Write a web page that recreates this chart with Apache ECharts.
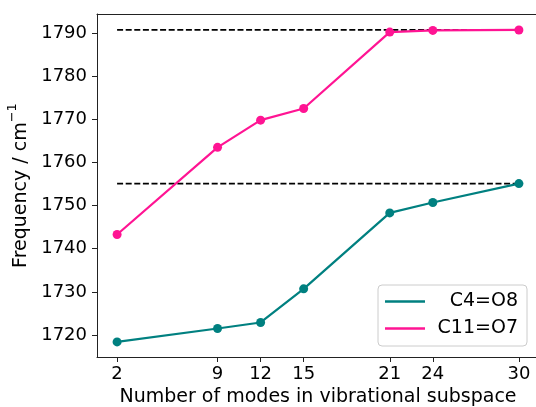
<!DOCTYPE html>
<html>
<head>
<meta charset="utf-8">
<script src="https://cdn.jsdelivr.net/npm/echarts@6/dist/echarts.min.js"></script>
<style>
html,body{margin:0;padding:0;background:#fff;}
#main{width:536px;height:407px;}
</style>
</head>
<body>
<div id="main"></div>
<script>
// Data
const modes = [2, 9, 12, 15, 21, 24, 30];
const c4o8 = [1718.4, 1721.5, 1722.9, 1730.7, 1748.3, 1750.7, 1755.1];
const c11o7 = [1743.3, 1763.5, 1769.8, 1772.5, 1790.2, 1790.6, 1790.7];
const refC4 = 1755.1;
const refC11 = 1790.7;
const yTicks = [1720, 1730, 1740, 1750, 1760, 1770, 1780, 1790];
const seriesNames = ['C4=O8', 'C11=O7'];

const FONT = 'DejaVu Sans';
const chart = echarts.init(document.getElementById('main'), null, {renderer: 'canvas'});

const pairs = (xs, ys) => xs.map((x, i) => [x, ys[i]]);

chart.setOption({
  animation: false,
  backgroundColor: '#fff',
  textStyle: {fontFamily: FONT},
  grid: {
    left: 97, top: 14, width: 442, height: 343,
    outerBoundsMode: 'none',
    containLabel: false,
    show: false
  },
  xAxis: [{
    type: 'value',
    min: 0.6, max: 31.4,
    name: 'Number of modes in vibrational subspace',
    nameLocation: 'middle',
    nameGap: 28,
    nameTextStyle: {fontFamily: FONT, fontSize: 19, color: '#000'},
    axisLine: {show: true, onZero: false, lineStyle: {color: '#222', width: 1}},
    axisTick: {show: true, length: 5, lineStyle: {color: '#222'}, customValues: modes},
    axisLabel: {fontFamily: FONT, fontSize: 18, color: '#000', margin: 8, customValues: modes},
    splitLine: {show: false}
  }, {
    type: 'value',
    position: 'top',
    min: 0.6, max: 31.4,
    axisLine: {show: true, onZero: false, lineStyle: {color: '#222', width: 1}},
    axisTick: {show: false},
    axisLabel: {show: false},
    splitLine: {show: false}
  }],
  yAxis: {
    type: 'value',
    min: 1714.9, max: 1794.4,
    name: '{a|Frequency / cm}{b|−1}',
    nameLocation: 'middle',
    nameGap: 64,
    nameRotate: 90,
    nameTextStyle: {
      fontFamily: FONT, color: '#000', fontSize: 19,
      rich: {
        a: {fontFamily: FONT, fontSize: 19, color: '#000', lineHeight: 24, verticalAlign: 'bottom'},
        b: {fontFamily: FONT, fontSize: 13, color: '#000', lineHeight: 24, verticalAlign: 'top'}
      }
    },
    axisLine: {show: true, onZero: false, lineStyle: {color: '#222', width: 1}},
    axisTick: {show: true, length: 5, lineStyle: {color: '#222'}, customValues: yTicks},
    axisLabel: {fontFamily: FONT, fontSize: 18, color: '#000', margin: 10, customValues: yTicks,
      formatter: v => String(Math.round(v))},
    splitLine: {show: false}
  },
  legend: {
    orient: 'vertical',
    left: 378, top: 285,
    padding: [7, 9, 8, 7],
    backgroundColor: '#fff',
    borderColor: '#ccc',
    borderWidth: 1,
    borderRadius: 4,
    itemWidth: 40,
    itemHeight: 2.5,
    itemGap: 8,
    icon: 'rect',
    data: seriesNames,
    formatter: name => '{t|' + name + '}',
    textStyle: {
      fontFamily: FONT, fontSize: 19, color: '#000',
      rich: {t: {fontFamily: FONT, fontSize: 19, color: '#000', width: 88, align: 'right', lineHeight: 20}}
    }
  },
  series: [
    {
      name: 'refC11', type: 'line', z: 1, silent: true, symbol: 'none',
      data: [[modes[0], refC11], [modes[modes.length - 1], refC11]],
      lineStyle: {color: '#000', width: 1.8, type: [6, 2.6]}
    },
    {
      name: 'refC4', type: 'line', z: 1, silent: true, symbol: 'none',
      data: [[modes[0], refC4], [modes[modes.length - 1], refC4]],
      lineStyle: {color: '#000', width: 1.8, type: [6, 2.6]}
    },
    {
      name: seriesNames[0], type: 'line', z: 3,
      data: pairs(modes, c4o8),
      symbol: 'circle', symbolSize: 9,
      itemStyle: {color: '#008080'},
      lineStyle: {color: '#008080', width: 2.2}
    },
    {
      name: seriesNames[1], type: 'line', z: 3,
      data: pairs(modes, c11o7),
      symbol: 'circle', symbolSize: 9,
      itemStyle: {color: '#FF1493'},
      lineStyle: {color: '#FF1493', width: 2.2}
    }
  ]
});
</script>
</body>
</html>
